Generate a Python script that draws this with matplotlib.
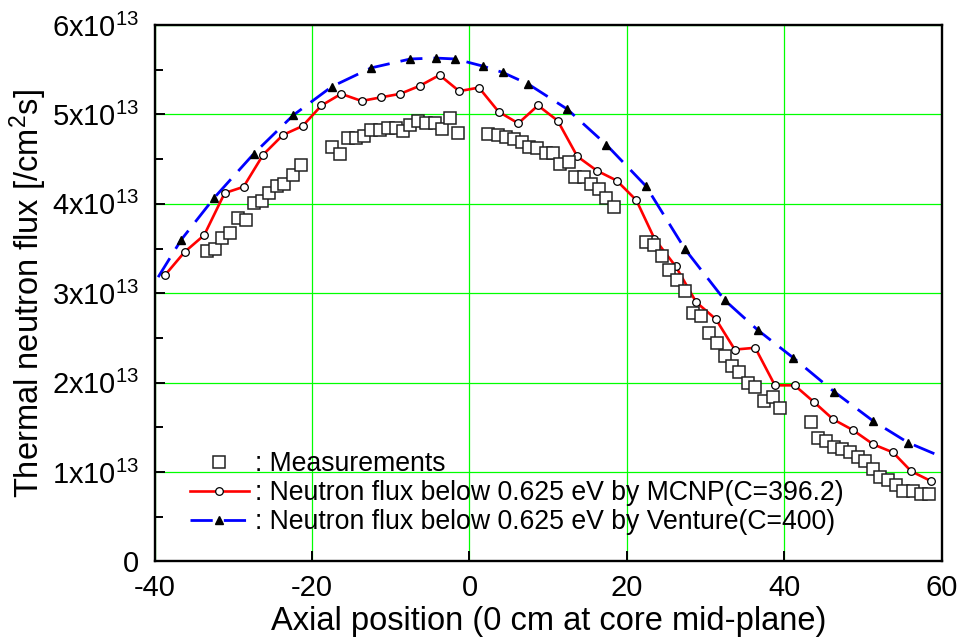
import numpy as np
import matplotlib
matplotlib.use('Agg')
import matplotlib.pyplot as plt
from matplotlib.ticker import MultipleLocator

plt.rcParams['font.family'] = ['Liberation Sans', 'DejaVu Sans']
plt.rcParams['mathtext.fontset'] = 'custom'
plt.rcParams['mathtext.rm'] = 'Liberation Sans'
plt.rcParams['axes.unicode_minus'] = False

# axial position [cm], flux in units of 1e13 /cm2s
meas_x = [-33.4, -32.3, -31.4, -30.4, -29.4, -28.4, -27.4, -26.4, -25.5, -24.4, -23.5, -22.4, -21.4,
          -17.5, -16.5, -15.4, -14.4, -13.4, -12.5, -11.4, -10.4, -9.3, -8.5, -7.5, -6.5, -5.5, -4.4, -3.5, -2.5, -1.5,
          2.4, 3.6, 4.6, 5.6, 6.7, 7.6, 8.6, 9.7, 10.6, 11.5, 12.6, 13.4, 14.5, 15.4, 16.5, 17.4, 18.4,
          22.4, 23.4, 24.4, 25.4, 26.4, 27.4, 28.4, 29.4, 30.4, 31.4, 32.4, 33.4, 34.3, 35.4, 36.3, 37.4, 38.5, 39.5,
          43.4, 44.3, 45.3, 46.3, 47.3, 48.3, 49.3, 50.2, 51.2, 52.2, 53.2, 54.2, 55.1, 56.4, 57.4, 58.4]
meas_y = [3.47, 3.50, 3.62, 3.67, 3.84, 3.82, 4.01, 4.03, 4.12, 4.20, 4.22, 4.32, 4.43,
          4.64, 4.56, 4.74, 4.74, 4.76, 4.82, 4.83, 4.85, 4.85, 4.81, 4.88, 4.93, 4.90, 4.90, 4.84, 4.96, 4.79,
          4.78, 4.77, 4.75, 4.72, 4.69, 4.64, 4.62, 4.57, 4.57, 4.45, 4.47, 4.30, 4.30, 4.22, 4.17, 4.07, 3.96,
          3.57, 3.54, 3.42, 3.26, 3.15, 3.03, 2.78, 2.74, 2.56, 2.44, 2.30, 2.19, 2.12, 2.00, 1.95, 1.79, 1.84, 1.72,
          1.56, 1.38, 1.35, 1.28, 1.26, 1.22, 1.17, 1.12, 1.03, 0.95, 0.91, 0.85, 0.79, 0.79, 0.76, 0.76]

mcnp_x = [-38.7, -36.2, -33.7, -31.1, -28.7, -26.2, -23.7, -21.2, -18.8, -16.3, -13.7, -11.3, -8.8, -6.3,
          -3.8, -1.3, 1.2, 3.7, 6.2, 8.7, 11.2, 13.7, 16.2, 18.7, 21.2, 23.5, 26.2, 28.8, 31.3, 33.7,
          36.3, 38.8, 41.3, 43.8, 46.2, 48.7, 51.3, 53.8, 56.1, 58.6]
mcnp_y = [3.20, 3.46, 3.65, 4.12, 4.19, 4.55, 4.77, 4.87, 5.10, 5.23, 5.15, 5.19, 5.23, 5.32,
          5.44, 5.26, 5.30, 5.03, 4.90, 5.10, 4.93, 4.53, 4.37, 4.26, 4.04, 3.61, 3.30, 2.90, 2.71, 2.37,
          2.39, 1.97, 1.97, 1.78, 1.59, 1.47, 1.31, 1.22, 1.01, 0.90]

venture_x = [-39.55, -36.6, -32.4, -27.4, -22.4, -17.5, -12.5, -7.5, -4.3, -1.8, 1.7, 4.2, 7.45,
             12.4, 17.4, 22.4, 27.4, 32.45, 36.6, 41.1, 46.3, 51.3, 55.7, 60.0]
venture_y = [3.18, 3.60, 4.07, 4.56, 4.99, 5.31, 5.52, 5.62, 5.63, 5.62, 5.54, 5.47, 5.34,
             5.06, 4.66, 4.20, 3.49, 2.92, 2.59, 2.28, 1.90, 1.57, 1.33, 1.17]

y_ticks = [0, 1, 2, 3, 4, 5, 6]
y_ticklabels = ['0'] + [r'$\mathregular{%dx10^{13}}$' % v for v in y_ticks[1:]]

scale = 1e13

fig = plt.figure(figsize=(9.62, 6.39), dpi=100)
ax = fig.add_axes([0.1607, 0.1213, 0.8183, 0.8396])

lv, = ax.plot(venture_x, np.array(venture_y) * scale, color='#0000ff', lw=2.0,
              dashes=(8, 4), marker='^', ms=6.2, mfc='black', mec='black',
              markevery=slice(1, len(venture_x) - 1),
              label=': Neutron flux below 0.625 eV by Venture(C=400)')
lm, = ax.plot(mcnp_x, np.array(mcnp_y) * scale, color='#ff0000', lw=1.9,
              marker='o', ms=5.5, mfc='white', mec='black', mew=0.9,
              label=': Neutron flux below 0.625 eV by MCNP(C=396.2)')
ls, = ax.plot(meas_x, np.array(meas_y) * scale, ls='none', marker='s', ms=8.3,
              mfc='white', mec='#222222', mew=1.1, label=': Measurements')

ax.set_xlim(-40, 60)
ax.set_ylim(0, 6 * scale)
ax.xaxis.set_major_locator(MultipleLocator(20))
ax.set_yticks(np.array(y_ticks) * scale)
ax.set_yticklabels(y_ticklabels)
ax.yaxis.set_minor_locator(MultipleLocator(0.5 * scale))

ax.grid(True, which='major', color='#00ff00', lw=0.9)
ax.set_axisbelow(True)

ax.tick_params(which='both', direction='in', top=False, right=False, width=1.4,
               labelsize=21)
ax.tick_params(axis='y', pad=11)
ax.tick_params(axis='x', pad=9)
ax.tick_params(which='major', length=7)
ax.tick_params(which='minor', length=6)
for sp in ax.spines.values():
    sp.set_linewidth(1.7)

ax.set_xlabel('Axial position (0 cm at core mid-plane)', fontsize=23.5, labelpad=3)
ax.set_ylabel(r'Thermal neutron flux [/cm$\mathregular{^2}$s]', fontsize=23.5, labelpad=2)

ax.legend(handles=[ls, lm, lv], loc='upper left', bbox_to_anchor=(0.045, 0.206),
          frameon=False, fontsize=19.2, handlelength=2.2, handletextpad=0.25,
          labelspacing=0.12, borderpad=0, borderaxespad=0, numpoints=1)

fig.savefig('out.png', dpi=100)
